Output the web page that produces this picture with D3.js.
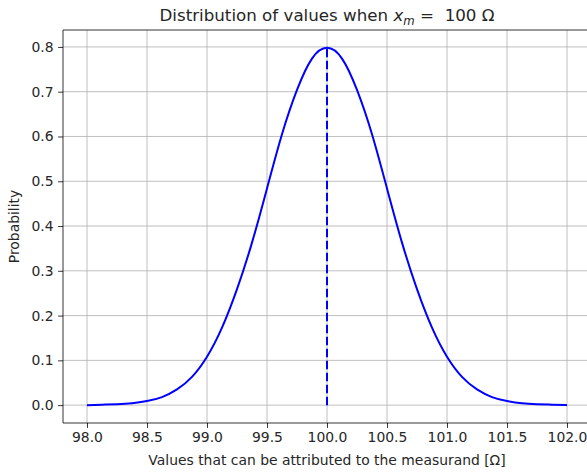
<!DOCTYPE html>
<html>
<head>
<meta charset="utf-8">
<script src="https://cdn.jsdelivr.net/npm/d3@7"></script>
<style>
  body { margin: 0; background: #fff; }
  text { font-family: "DejaVu Sans", sans-serif; fill: #262626; }
</style>
</head>
<body>
<svg id="chart" width="587" height="472"></svg>
<script>
// values (left half, mirrored around the mean below)
const xLeft = [98.0, 98.125, 98.25, 98.375, 98.5, 98.625, 98.75, 98.875, 99.0,
  99.125, 99.25, 99.375, 99.5, 99.625, 99.75, 99.875, 100.0];
const yLeft = [0.000, 0.001, 0.002, 0.004, 0.009, 0.018, 0.035, 0.063, 0.108,
  0.173, 0.259, 0.363, 0.484, 0.605, 0.704, 0.774, 0.798];
const meanValue = 100;
const peakValue = 0.798;
const xTicks = [98.0, 98.5, 99.0, 99.5, 100.0, 100.5, 101.0, 101.5, 102.0];
const yTicks = [0.0, 0.1, 0.2, 0.3, 0.4, 0.5, 0.6, 0.7, 0.8];

const data = xLeft.map((x, i) => ({ x: x, y: yLeft[i] }));
const right = xLeft.slice(0, -1).reverse().map((x, i) => ({
  x: 2 * meanValue - x,
  y: yLeft[xLeft.length - 2 - i]
}));
const curve = data.concat(right);

const margin = { left: 63, right: 591, top: 30, bottom: 423 };
const svg = d3.select("#chart");

const x = d3.scaleLinear().domain([97.8, 102.2]).range([margin.left, margin.right]);
const y = d3.scaleLinear().domain([-0.0399, 0.8378]).range([margin.bottom, margin.top]);

const g = svg.append("g");

// grid
g.selectAll(".gx").data(xTicks).enter().append("line")
  .attr("x1", d => x(d)).attr("x2", d => x(d))
  .attr("y1", margin.top).attr("y2", margin.bottom)
  .attr("stroke", "#b0b0b0").attr("stroke-width", 0.8);
g.selectAll(".gy").data(yTicks).enter().append("line")
  .attr("y1", d => y(d)).attr("y2", d => y(d))
  .attr("x1", margin.left).attr("x2", margin.right)
  .attr("stroke", "#b0b0b0").attr("stroke-width", 0.8);

// curve
const line = d3.line()
  .curve(d3.curveNatural)
  .x(d => x(d.x))
  .y(d => y(d.y));

g.append("path")
  .datum(curve)
  .attr("fill", "none")
  .attr("stroke", "#0000ff")
  .attr("stroke-width", 2)
  .attr("d", line);

// mean marker
g.append("line")
  .attr("x1", x(meanValue)).attr("x2", x(meanValue))
  .attr("y1", y(0)).attr("y2", y(peakValue))
  .attr("stroke", "#0000ff")
  .attr("stroke-width", 2)
  .attr("stroke-dasharray", "8.5,3.5");

// axes
const xAxis = d3.axisBottom(x).tickValues(xTicks).tickFormat(d3.format(".1f")).tickSizeOuter(0).tickSize(4.9).tickPadding(4.5);
const yAxis = d3.axisLeft(y).tickValues(yTicks).tickFormat(d3.format(".1f")).tickSizeOuter(0).tickSize(4.9).tickPadding(4.5);

const gx = svg.append("g").attr("transform", `translate(0,${margin.bottom})`).call(xAxis);
const gy = svg.append("g").attr("transform", `translate(${margin.left},0)`).call(yAxis);

[gx, gy].forEach(a => {
  a.select(".domain").remove();
  a.selectAll(".tick line").attr("stroke", "#000").attr("stroke-width", 0.8);
  a.selectAll(".tick text").style("font-size", "13.9px").attr("fill", "#262626")
    .style("font-family", "DejaVu Sans, sans-serif");
});

// spines
svg.append("path")
  .attr("d", `M${margin.right},${margin.top}H${margin.left}V${margin.bottom}H${margin.right}`)
  .attr("fill", "none")
  .attr("stroke", "#000").attr("stroke-width", 0.8);

// labels
svg.append("text")
  .attr("x", (margin.left + margin.right) / 2)
  .attr("y", 465)
  .attr("text-anchor", "middle")
  .style("font-size", "13.9px")
  .text("Values that can be attributed to the measurand [Ω]");

svg.append("text")
  .attr("transform", `translate(19,${(margin.top + margin.bottom) / 2}) rotate(-90)`)
  .attr("text-anchor", "middle")
  .style("font-size", "13.9px")
  .text("Probability");

const title = svg.append("text")
  .attr("x", (margin.left + margin.right) / 2)
  .attr("y", 21)
  .attr("text-anchor", "middle")
  .style("font-size", "16.7px");
title.append("tspan").text("Distribution of values when ");
title.append("tspan").style("font-style", "italic").text("x");
title.append("tspan").attr("dy", 3.5).style("font-size", "11.7px").style("font-style", "italic").text("m");
title.append("tspan").attr("dy", -3.5).attr("xml:space", "preserve").text(" =  100 Ω");
</script>
</body>
</html>
